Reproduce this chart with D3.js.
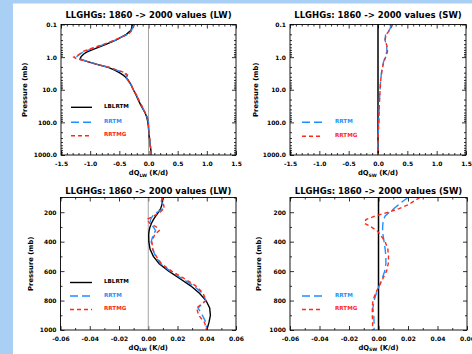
<!DOCTYPE html>
<html><head><meta charset="utf-8">
<script src="https://cdn.jsdelivr.net/npm/d3@7"></script>
<style>
html,body{margin:0;padding:0;background:#fff;}
svg{display:block;}
text{font-family:"DejaVu Sans",Arial,sans-serif;font-weight:bold;fill:#000;}
</style></head>
<body>
<svg id="chart" width="472" height="354"></svg>
<script>
// ---------------- DATA ----------------
const titleLW = "LLGHGs: 1860 -> 2000 values (LW)";
const titleSW = "LLGHGs: 1860 -> 2000 values (SW)";
const seriesNames = ["LBLRTM", "RRTM", "RRTMG"];

// Top row: log pressure (mb)
const topLogTicks = [0.1, 1, 10, 100, 1000];
const topLogTickLabels = ["0.1", "1.0", "10.0", "100.0", "1000.0"];
const topXTicks = [-1.5, -1.0, -0.5, 0.0, 0.5, 1.0, 1.5];
const topXTickLabels = ["-1.5", "-1.0", "-0.5", "0.0", "0.5", "1.0", "1.5"];

const lwTopP      = [0.1, 0.15, 0.2, 0.3, 0.4, 0.5, 0.6, 0.7, 0.8, 0.9, 1.0, 1.1, 1.2, 1.4, 1.7, 2.0, 2.5, 3.0, 3.5, 4.0, 5.0, 7.0, 10, 15, 20, 30, 50, 70, 100, 150, 200, 300, 500, 700, 1000];
const lwTopLBLRTM = [-0.27, -0.30, -0.38, -0.56, -0.72, -0.86, -0.97, -1.06, -1.11, -1.14, -1.16, -1.17, -1.15, -1.03, -0.87, -0.71, -0.58, -0.50, -0.44, -0.40, -0.35, -0.30, -0.26, -0.21, -0.18, -0.13, -0.06, -0.03, -0.01, 0.00, 0.005, 0.015, 0.03, 0.04, 0.05];
const lwTopRRTM   = [-0.25, -0.29, -0.36, -0.57, -0.75, -0.90, -1.02, -1.12, -1.17, -1.21, -1.24, -1.22, -1.15, -1.02, -0.86, -0.70, -0.55, -0.42, -0.38, -0.38, -0.36, -0.30, -0.26, -0.20, -0.17, -0.12, -0.06, -0.02, 0.00, 0.005, 0.01, 0.015, 0.03, 0.04, 0.05];
const lwTopRRTMG  = [-0.24, -0.28, -0.35, -0.58, -0.76, -0.92, -1.05, -1.15, -1.18, -1.22, -1.28, -1.24, -1.16, -1.03, -0.87, -0.70, -0.54, -0.40, -0.36, -0.37, -0.36, -0.30, -0.26, -0.20, -0.17, -0.12, -0.06, -0.02, 0.00, 0.005, 0.01, 0.02, 0.03, 0.04, 0.05];

const swTopP     = [0.1, 0.15, 0.2, 0.3, 0.5, 0.7, 1.0, 1.5, 2, 3, 5, 10, 20, 50, 100, 200, 300, 500, 1000];
const swTopRRTM  = [0.24, 0.19, 0.13, 0.12, 0.15, 0.15, 0.12, 0.09, 0.075, 0.06, 0.045, 0.035, 0.025, 0.018, 0.012, 0.006, 0.0, -0.005, 0.0];
const swTopRRTMG = [0.25, 0.20, 0.14, 0.12, 0.16, 0.16, 0.13, 0.095, 0.08, 0.062, 0.047, 0.036, 0.026, 0.019, 0.013, 0.006, 0.0, -0.004, 0.0];

// Bottom row: linear pressure (mb)
const botYTicks = [200, 400, 600, 800, 1000];
const botYTickLabels = ["200", "400", "600", "800", "1000"];
const botXTicks = [-0.06, -0.04, -0.02, 0.0, 0.02, 0.04, 0.06];
const botXTickLabels = ["-0.06", "-0.04", "-0.02", "0.00", "0.02", "0.04", "0.06"];

const botP        = [100, 125, 150, 175, 200, 225, 250, 275, 300, 325, 350, 400, 450, 500, 550, 600, 650, 700, 750, 800, 850, 900, 950, 1000];
const lwBotLBLRTM = [0.0100, 0.0098, 0.0093, 0.0085, 0.0070, 0.0052, 0.0035, 0.0022, 0.0012, 0.0006, 0.0003, 0.0004, 0.0012, 0.0035, 0.0075, 0.0140, 0.0215, 0.0290, 0.0350, 0.0395, 0.0420, 0.0425, 0.0415, 0.0400];
const lwBotRRTM   = [0.0095, 0.0090, 0.0100, 0.0105, 0.0060, 0.0030, 0.0015, 0.0015, 0.0035, 0.0050, 0.0035, 0.0020, 0.0030, 0.0050, 0.0085, 0.0150, 0.0230, 0.0310, 0.0370, 0.0395, 0.0340, 0.0370, 0.0395, 0.0400];
const lwBotRRTMG  = [0.0100, 0.0090, 0.0105, 0.0110, 0.0080, 0.0040, -0.0010, 0.0010, 0.0055, 0.0075, 0.0045, 0.0025, 0.0030, 0.0055, 0.0090, 0.0160, 0.0245, 0.0325, 0.0375, 0.0395, 0.0330, 0.0345, 0.0385, 0.0400];
const swBotRRTM   = [0.0200, 0.0165, 0.0135, 0.0105, 0.0075, 0.0045, 0.0035, 0.0030, 0.0028, 0.0028, 0.0030, 0.0038, 0.0045, 0.0050, 0.0050, 0.0042, 0.0025, 0.0005, -0.0015, -0.0030, -0.0038, -0.0032, -0.0030, -0.0030];
const swBotRRTMG  = [0.0280, 0.0240, 0.0200, 0.0140, 0.0065, -0.0020, -0.0085, -0.0095, -0.0050, -0.0010, 0.0010, 0.0045, 0.0063, 0.0068, 0.0066, 0.0055, 0.0030, 0.0005, -0.0020, -0.0038, -0.0042, -0.0042, -0.0040, -0.0040];

// ---------------- STYLE ----------------
const COL = {LBLRTM: "#000000", RRTM: "#1e90ff", RRTMG: "#ff2a1a"};
const DASH = {LBLRTM: null, RRTM: "8,4", RRTMG: "4,3"};
const WID = {LBLRTM: 1.4, RRTM: 1.4, RRTMG: 1.4};

const svg = d3.select("#chart");
svg.append("rect").attr("width", 472).attr("height", 354).attr("fill", "#fff");
svg.append("rect").attr("width", 472).attr("height", 3.5).attr("fill", "#a9cff5");
svg.append("rect").attr("width", 13).attr("height", 354).attr("fill", "#a9cff5");

function panel(o) {
  const g = svg.append("g");
  const x = d3.scaleLinear().domain(o.xDomain).range([o.x0, o.x1]);
  const y = (o.log ? d3.scaleLog() : d3.scaleLinear()).domain(o.yDomain).range([o.y0, o.y1]);
  const W = o.x1 - o.x0, H = o.y1 - o.y0;
  const id = "clip" + Math.round(o.x0) + "_" + Math.round(o.y0);
  svg.append("clipPath").attr("id", id).append("rect")
    .attr("x", o.x0).attr("y", o.y0).attr("width", W).attr("height", H);

  g.append("text").attr("x", (o.x0 + o.x1) / 2).attr("y", o.titleY)
    .attr("text-anchor", "middle").attr("font-size", 8.5).text(o.title);

  const bottom = d3.axisBottom(x).tickValues(o.xTicks).tickFormat((d, i) => o.xLabels[i]).tickSizeInner(-4).tickSizeOuter(0).tickPadding(o.xPad);
  const top = d3.axisTop(x).tickValues(o.xTicks).tickFormat("").tickSizeInner(-4).tickSizeOuter(0);
  const left = d3.axisLeft(y).tickValues(o.yTicks).tickFormat((d, i) => o.yLabels[i]).tickSizeInner(-4).tickSizeOuter(0).tickPadding(4);
  const right = d3.axisRight(y).tickValues(o.yTicks).tickFormat("").tickSizeInner(-4).tickSizeOuter(0);
  const bottomM = d3.axisBottom(x).tickValues(o.xMinor).tickFormat("").tickSizeInner(-2).tickSizeOuter(0);
  const topM = d3.axisTop(x).tickValues(o.xMinor).tickFormat("").tickSizeInner(-2).tickSizeOuter(0);
  const leftM = d3.axisLeft(y).tickValues(o.yMinor).tickFormat("").tickSizeInner(-2).tickSizeOuter(0);
  const rightM = d3.axisRight(y).tickValues(o.yMinor).tickFormat("").tickSizeInner(-2).tickSizeOuter(0);

  const ax = [
    [bottom, `translate(0,${o.y1})`], [top, `translate(0,${o.y0})`],
    [left, `translate(${o.x0},0)`], [right, `translate(${o.x1},0)`],
    [bottomM, `translate(0,${o.y1})`], [topM, `translate(0,${o.y0})`],
    [leftM, `translate(${o.x0},0)`], [rightM, `translate(${o.x1},0)`]
  ];
  ax.forEach(([a, t]) => {
    const ag = g.append("g").attr("transform", t).call(a);
    ag.select(".domain").remove();
    ag.selectAll("line").attr("stroke", "#000").attr("stroke-width", 0.8);
    ag.selectAll("text").attr("font-size", 6).attr("font-family", "DejaVu Sans, Arial, sans-serif").attr("font-weight", "bold");
  });

  g.append("line").attr("x1", x(0)).attr("x2", x(0)).attr("y1", o.y0).attr("y2", o.y1)
    .attr("stroke", o.zeroColor).attr("stroke-width", o.zeroWidth);

  const line = d3.line().x(d => x(d.v)).y(d => y(d.p));
  const pg = g.append("g").attr("clip-path", `url(#${id})`);
  o.series.forEach(s => {
    const data = o.p.map((p, i) => ({p: p, v: s.values[i]}));
    pg.append("path").datum(data).attr("d", line).attr("fill", "none")
      .attr("stroke", COL[s.name]).attr("stroke-width", WID[s.name])
      .attr("stroke-dasharray", DASH[s.name]);
  });

  g.append("rect").attr("x", o.x0).attr("y", o.y0).attr("width", W).attr("height", H)
    .attr("fill", "none").attr("stroke", "#000").attr("stroke-width", 0.9);

  g.append("text").attr("transform", `translate(${o.yLabelX},${(o.y0 + o.y1) / 2}) rotate(-90)`)
    .attr("text-anchor", "middle").attr("font-size", 6.8).text("Pressure (mb)");
  const xl = g.append("text").attr("x", (o.x0 + o.x1) / 2).attr("y", o.xLabelY)
    .attr("text-anchor", "middle").attr("font-size", 6.8);
  xl.append("tspan").text("dQ");
  xl.append("tspan").attr("font-size", 4.5).attr("dy", 1.5).text(o.sub);
  xl.append("tspan").attr("dy", -1.5).text(" (K/d)");

  o.legend.forEach((s, i) => {
    const ly = o.legY[i];
    g.append("line").attr("x1", o.legX0).attr("x2", o.legX1).attr("y1", ly).attr("y2", ly)
      .attr("stroke", COL[s]).attr("stroke-width", WID[s]).attr("stroke-dasharray", DASH[s]);
    g.append("text").attr("x", o.legTX).attr("y", ly - 1.3).attr("dy", "0.35em")
      .attr("font-size", 5.6).style("fill", COL[s]).text(s);
  });
}

function logMinor() {
  const m = [];
  [0.1, 1, 10, 100].forEach(d => { for (let k = 2; k <= 9; k++) m.push(d * k); });
  return m;
}

const topMinorX = d3.range(-15, 16).map(v => v / 10).filter(v => Math.abs(v * 2 - Math.round(v * 2)) > 1e-6);
const botMinorX = [-0.05, -0.03, -0.01, 0.01, 0.03, 0.05];
const botMinorY = [100, 300, 500, 700, 900];

const topCommon = {log: true, yDomain: [0.1, 1000], xDomain: [-1.5, 1.5], y0: 24.5, y1: 155,
  yTicks: topLogTicks, yLabels: topLogTickLabels, yMinor: logMinor(),
  xTicks: topXTicks, xLabels: topXTickLabels, xMinor: topMinorX, xPad: 6.3,
  titleY: 18.3, xLabelY: 175};
const botCommon = {log: false, yDomain: [100, 1000], xDomain: [-0.06, 0.06], y0: 197.5, y1: 330,
  yTicks: botYTicks, yLabels: botYTickLabels, yMinor: botMinorY,
  xTicks: botXTicks, xLabels: botXTickLabels, xMinor: botMinorX, xPad: 6.8,
  titleY: 193.7, xLabelY: 349.5};

panel(Object.assign({}, topCommon, {x0: 61, x1: 236, title: titleLW, sub: "LW", p: lwTopP,
  yLabelX: 27, zeroColor: "#9a9a9a", zeroWidth: 0.9,
  series: [{name: "LBLRTM", values: lwTopLBLRTM}, {name: "RRTM", values: lwTopRRTM}, {name: "RRTMG", values: lwTopRRTMG}],
  legend: seriesNames, legX0: 71, legX1: 92, legTX: 104, legY: [107.3, 122.3, 135.7]}));

panel(Object.assign({}, topCommon, {x0: 290, x1: 466, title: titleSW, sub: "SW", p: swTopP,
  yLabelX: 258, zeroColor: "#000", zeroWidth: 1.5,
  series: [{name: "RRTM", values: swTopRRTM}, {name: "RRTMG", values: swTopRRTMG}],
  legend: ["RRTM", "RRTMG"], legX0: 302, legX1: 322, legTX: 335, legY: [122.3, 136.2]}));

panel(Object.assign({}, botCommon, {x0: 60.5, x1: 236, title: titleLW, sub: "LW", p: botP,
  yLabelX: 33, zeroColor: "#9a9a9a", zeroWidth: 0.9,
  series: [{name: "LBLRTM", values: lwBotLBLRTM}, {name: "RRTM", values: lwBotRRTM}, {name: "RRTMG", values: lwBotRRTMG}],
  legend: seriesNames, legX0: 70, legX1: 92, legTX: 104, legY: [282.5, 296, 309.5]}));

panel(Object.assign({}, botCommon, {x0: 290, x1: 467, title: titleSW, sub: "SW", p: botP,
  yLabelX: 261, zeroColor: "#000", zeroWidth: 1.5,
  series: [{name: "RRTM", values: swBotRRTM}, {name: "RRTMG", values: swBotRRTMG}],
  legend: ["RRTM", "RRTMG"], legX0: 302, legX1: 322, legTX: 335, legY: [296, 309.5]}));
</script>
</body></html>
